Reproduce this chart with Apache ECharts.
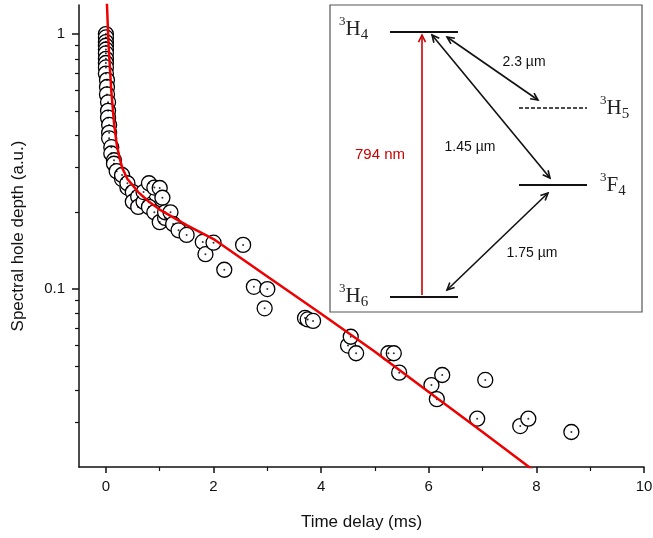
<!DOCTYPE html>
<html lang="en">
<head>
  <meta charset="UTF-8">
  <title>Spectral hole decay</title>
  <script src="https://cdn.jsdelivr.net/npm/echarts@6.0.0/dist/echarts.min.js"></script>
  <style>
    html, body { margin: 0; padding: 0; background: #fff; }
    #main { width: 653px; height: 538px; }
  </style>
</head>
<body>
  <div id="main"></div>
  <script>
    // measured points: time delay (ms) and hole depth (a.u.)
    let pointTime = [
      0, 0, 0, 0, 0, 0, 0, 0, 0, 0,
      0.02, 0.02, 0.02, 0.04, 0.04, 0.04, 0.06, 0.06, 0.06, 0.1, 0.1,
      0.15, 0.15, 0.2, 0.3, 0.3, 0.4, 0.4, 0.5, 0.5, 0.6, 0.6, 0.7, 0.7,
      0.8, 0.8, 0.9, 0.9, 1.0, 1.0, 1.05, 1.1, 1.1, 1.2, 1.25, 1.35, 1.5,
      1.8, 1.85, 2.0, 2.2, 2.55, 2.75, 2.95, 3.0, 3.7, 3.75, 3.85,
      4.5, 4.55, 4.65, 5.25, 5.35, 5.45, 6.05, 6.15, 6.25, 6.9, 7.05,
      7.7, 7.85, 8.65
    ];
    let pointDepth = [
      1.0, 0.97, 0.93, 0.9, 0.87, 0.84, 0.8, 0.77, 0.74, 0.7,
      0.66, 0.62, 0.58, 0.54, 0.5, 0.47, 0.44, 0.41, 0.39, 0.36, 0.34,
      0.32, 0.31, 0.29, 0.27, 0.28, 0.25, 0.26, 0.24, 0.22, 0.23, 0.21, 0.22, 0.24,
      0.26, 0.21, 0.25, 0.2, 0.183, 0.249, 0.228, 0.19, 0.2, 0.2, 0.18, 0.17, 0.163,
      0.153, 0.137, 0.152, 0.119, 0.149, 0.102, 0.084, 0.1, 0.077, 0.076, 0.075,
      0.06, 0.065, 0.056, 0.056, 0.056, 0.047, 0.042, 0.037, 0.046, 0.031, 0.044,
      0.029, 0.031, 0.0275
    ];
    // fitted curve
    let fitTime = [0, 0.02, 0.05, 0.1, 0.15, 0.2, 0.25, 0.3, 0.4, 0.5, 0.6, 0.8, 1.0, 1.5, 2, 3, 4, 5, 6, 7, 7.87, 8.0];
    let fitDepth = [1.6, 1.3, 0.9, 0.6, 0.45, 0.37, 0.33, 0.3, 0.27, 0.255, 0.24, 0.22, 0.205, 0.178, 0.157, 0.112, 0.08, 0.0568, 0.0395, 0.0275, 0.02, 0.0191];
    let yMajor = [0.1, 1];
    let yMinor = [0.02, 0.03, 0.04, 0.05, 0.06, 0.07, 0.08, 0.09, 0.2, 0.3, 0.4, 0.5, 0.6, 0.7, 0.8, 0.9];
    let xMajor = [0, 2, 4, 6, 8, 10];
    let xMinor = [1, 3, 5, 7, 9];

    let lg = Math.log10;
    let yMin = -1.698, yMax = 0.114;
    let pts = pointTime.map((t, i) => [t, lg(pointDepth[i])]);
    let fit = fitTime.map((t, i) => [t, lg(fitDepth[i])]);

    let chart = echarts.init(document.getElementById('main'));
    let font = 'Liberation Sans, Arial, sans-serif';
    let serif = 'Liberation Serif, DejaVu Serif, serif';

    function level(name, sub, x, y) {
      return {
        type: 'text', x: x, y: y,
        style: {
          text: '{sup|3}{b|' + name + '}{sub|' + sub + '}',
          rich: {
            sup: { fontSize: 13, fontFamily: serif, fill: '#222', verticalAlign: 'top', padding: [0, 0, 10, 0] },
            b: { fontSize: 21, fontFamily: serif, fill: '#222' },
            sub: { fontSize: 15, fontFamily: serif, fill: '#222', padding: [12, 0, 0, 0] }
          },
          verticalAlign: 'middle'
        }, z: 20
      };
    }
    function arrowHead(x, y, ang, color) {
      let a = 8, s = 0.45;
      return {
        type: 'polyline', z: 20,
        shape: { points: [
          [x - a * Math.cos(ang - s), y - a * Math.sin(ang - s)],
          [x, y],
          [x - a * Math.cos(ang + s), y - a * Math.sin(ang + s)]
        ] },
        style: { stroke: color, lineWidth: 1.6, fill: null }
      };
    }
    function dblArrow(x1, y1, x2, y2) {
      let ang = Math.atan2(y2 - y1, x2 - x1);
      return [
        { type: 'line', z: 20, shape: { x1: x1, y1: y1, x2: x2, y2: y2 }, style: { stroke: '#111', lineWidth: 1.6 } },
        arrowHead(x2, y2, ang, '#111'),
        arrowHead(x1, y1, ang + Math.PI, '#111')
      ];
    }
    let muText = (t, x, y) => ({ type: 'text', x: x, y: y, z: 20,
      style: { text: t, font: '14px ' + font, fill: '#111', align: 'center', verticalAlign: 'middle' } });

    let inset = [
      { type: 'rect', z: 15, shape: { x: 330, y: 5, width: 312, height: 307 },
        style: { fill: '#fff', stroke: '#555', lineWidth: 1.2 } },
      { type: 'line', z: 20, shape: { x1: 390, y1: 32, x2: 458, y2: 32 }, style: { stroke: '#111', lineWidth: 2 } },
      { type: 'line', z: 20, shape: { x1: 390, y1: 297, x2: 458, y2: 297 }, style: { stroke: '#111', lineWidth: 2 } },
      { type: 'line', z: 20, shape: { x1: 519, y1: 108, x2: 587, y2: 108 }, style: { stroke: '#111', lineWidth: 1.6, lineDash: [4, 2] } },
      { type: 'line', z: 20, shape: { x1: 519, y1: 185, x2: 587, y2: 185 }, style: { stroke: '#111', lineWidth: 2 } },
      { type: 'line', z: 20, shape: { x1: 422, y1: 295, x2: 422, y2: 35 }, style: { stroke: '#cc0000', lineWidth: 1.6 } },
      arrowHead(422, 35, -Math.PI / 2, '#cc0000'),
      ...dblArrow(447, 37, 538, 100),
      ...dblArrow(432, 35, 550, 178),
      ...dblArrow(548, 193, 447, 290),
      level('H', '4', 339, 29),
      level('H', '5', 600, 108),
      level('F', '4', 600, 185),
      level('H', '6', 339, 296),
      muText('2.3 µm', 524, 62),
      muText('1.45 µm', 470, 147),
      muText('1.75 µm', 532, 253),
      { type: 'text', x: 380, y: 155, z: 20,
        style: { text: '794 nm', font: '15px ' + font, fill: '#cc0000', align: 'center', verticalAlign: 'middle' } }
    ];

    let option = {
      animation: false,
      grid: { left: 79, right: 9, top: 5, bottom: 71, outerBoundsMode: 'none' },
      xAxis: [{
        type: 'value', min: -0.5, max: 10,
        name: 'Time delay (ms)', nameLocation: 'middle', nameGap: 47,
        nameTextStyle: { fontSize: 17, fontFamily: font, color: '#111' },
        axisLine: { onZero: false, lineStyle: { color: '#111', width: 1.5 } },
        axisTick: { length: 6, lineStyle: { color: '#111', width: 1.5 }, customValues: xMajor },
        axisLabel: { customValues: xMajor, fontSize: 15, fontFamily: font, color: '#111', margin: 12 },
        splitLine: { show: false }
      }, {
        type: 'value', min: -0.5, max: 10, position: 'bottom',
        axisLine: { show: false, onZero: false },
        axisTick: { length: 4, lineStyle: { color: '#111', width: 1.2 }, customValues: xMinor },
        axisLabel: { show: false }, splitLine: { show: false }
      }],
      yAxis: [{
        type: 'value', min: yMin, max: yMax,
        name: 'Spectral hole depth (a.u.)', nameLocation: 'middle', nameGap: 52,
        nameTextStyle: { fontSize: 17, fontFamily: font, color: '#111' },
        axisLine: { show: true, onZero: false, lineStyle: { color: '#111', width: 1.5 } },
        axisTick: { length: 7, lineStyle: { color: '#111', width: 1.5 }, customValues: yMajor.map(lg) },
        axisLabel: { customValues: yMajor.map(lg), fontSize: 15, fontFamily: font, color: '#111', margin: 14,
          formatter: v => String(Math.round(Math.pow(10, v) * 10) / 10) },
        splitLine: { show: false }
      }, {
        type: 'value', min: yMin, max: yMax, position: 'left',
        axisLine: { show: false, onZero: false },
        axisTick: { length: 4, lineStyle: { color: '#111', width: 1.2 }, customValues: yMinor.map(lg) },
        axisLabel: { show: false }, splitLine: { show: false }
      }],
      series: [
        { type: 'scatter', data: pts, symbol: 'circle', symbolSize: 15, z: 3,
          itemStyle: { color: '#fff', borderColor: '#000', borderWidth: 1.3, opacity: 1 } },
        { type: 'scatter', data: pts, symbol: 'circle', symbolSize: 2, z: 4,
          itemStyle: { color: '#000' } },
        { type: 'line', data: fit, smooth: false, showSymbol: false, z: 5,
          lineStyle: { color: '#ee0000', width: 2.5 } }
      ],
      graphic: inset
    };
    chart.setOption(option);
  </script>
</body>
</html>
